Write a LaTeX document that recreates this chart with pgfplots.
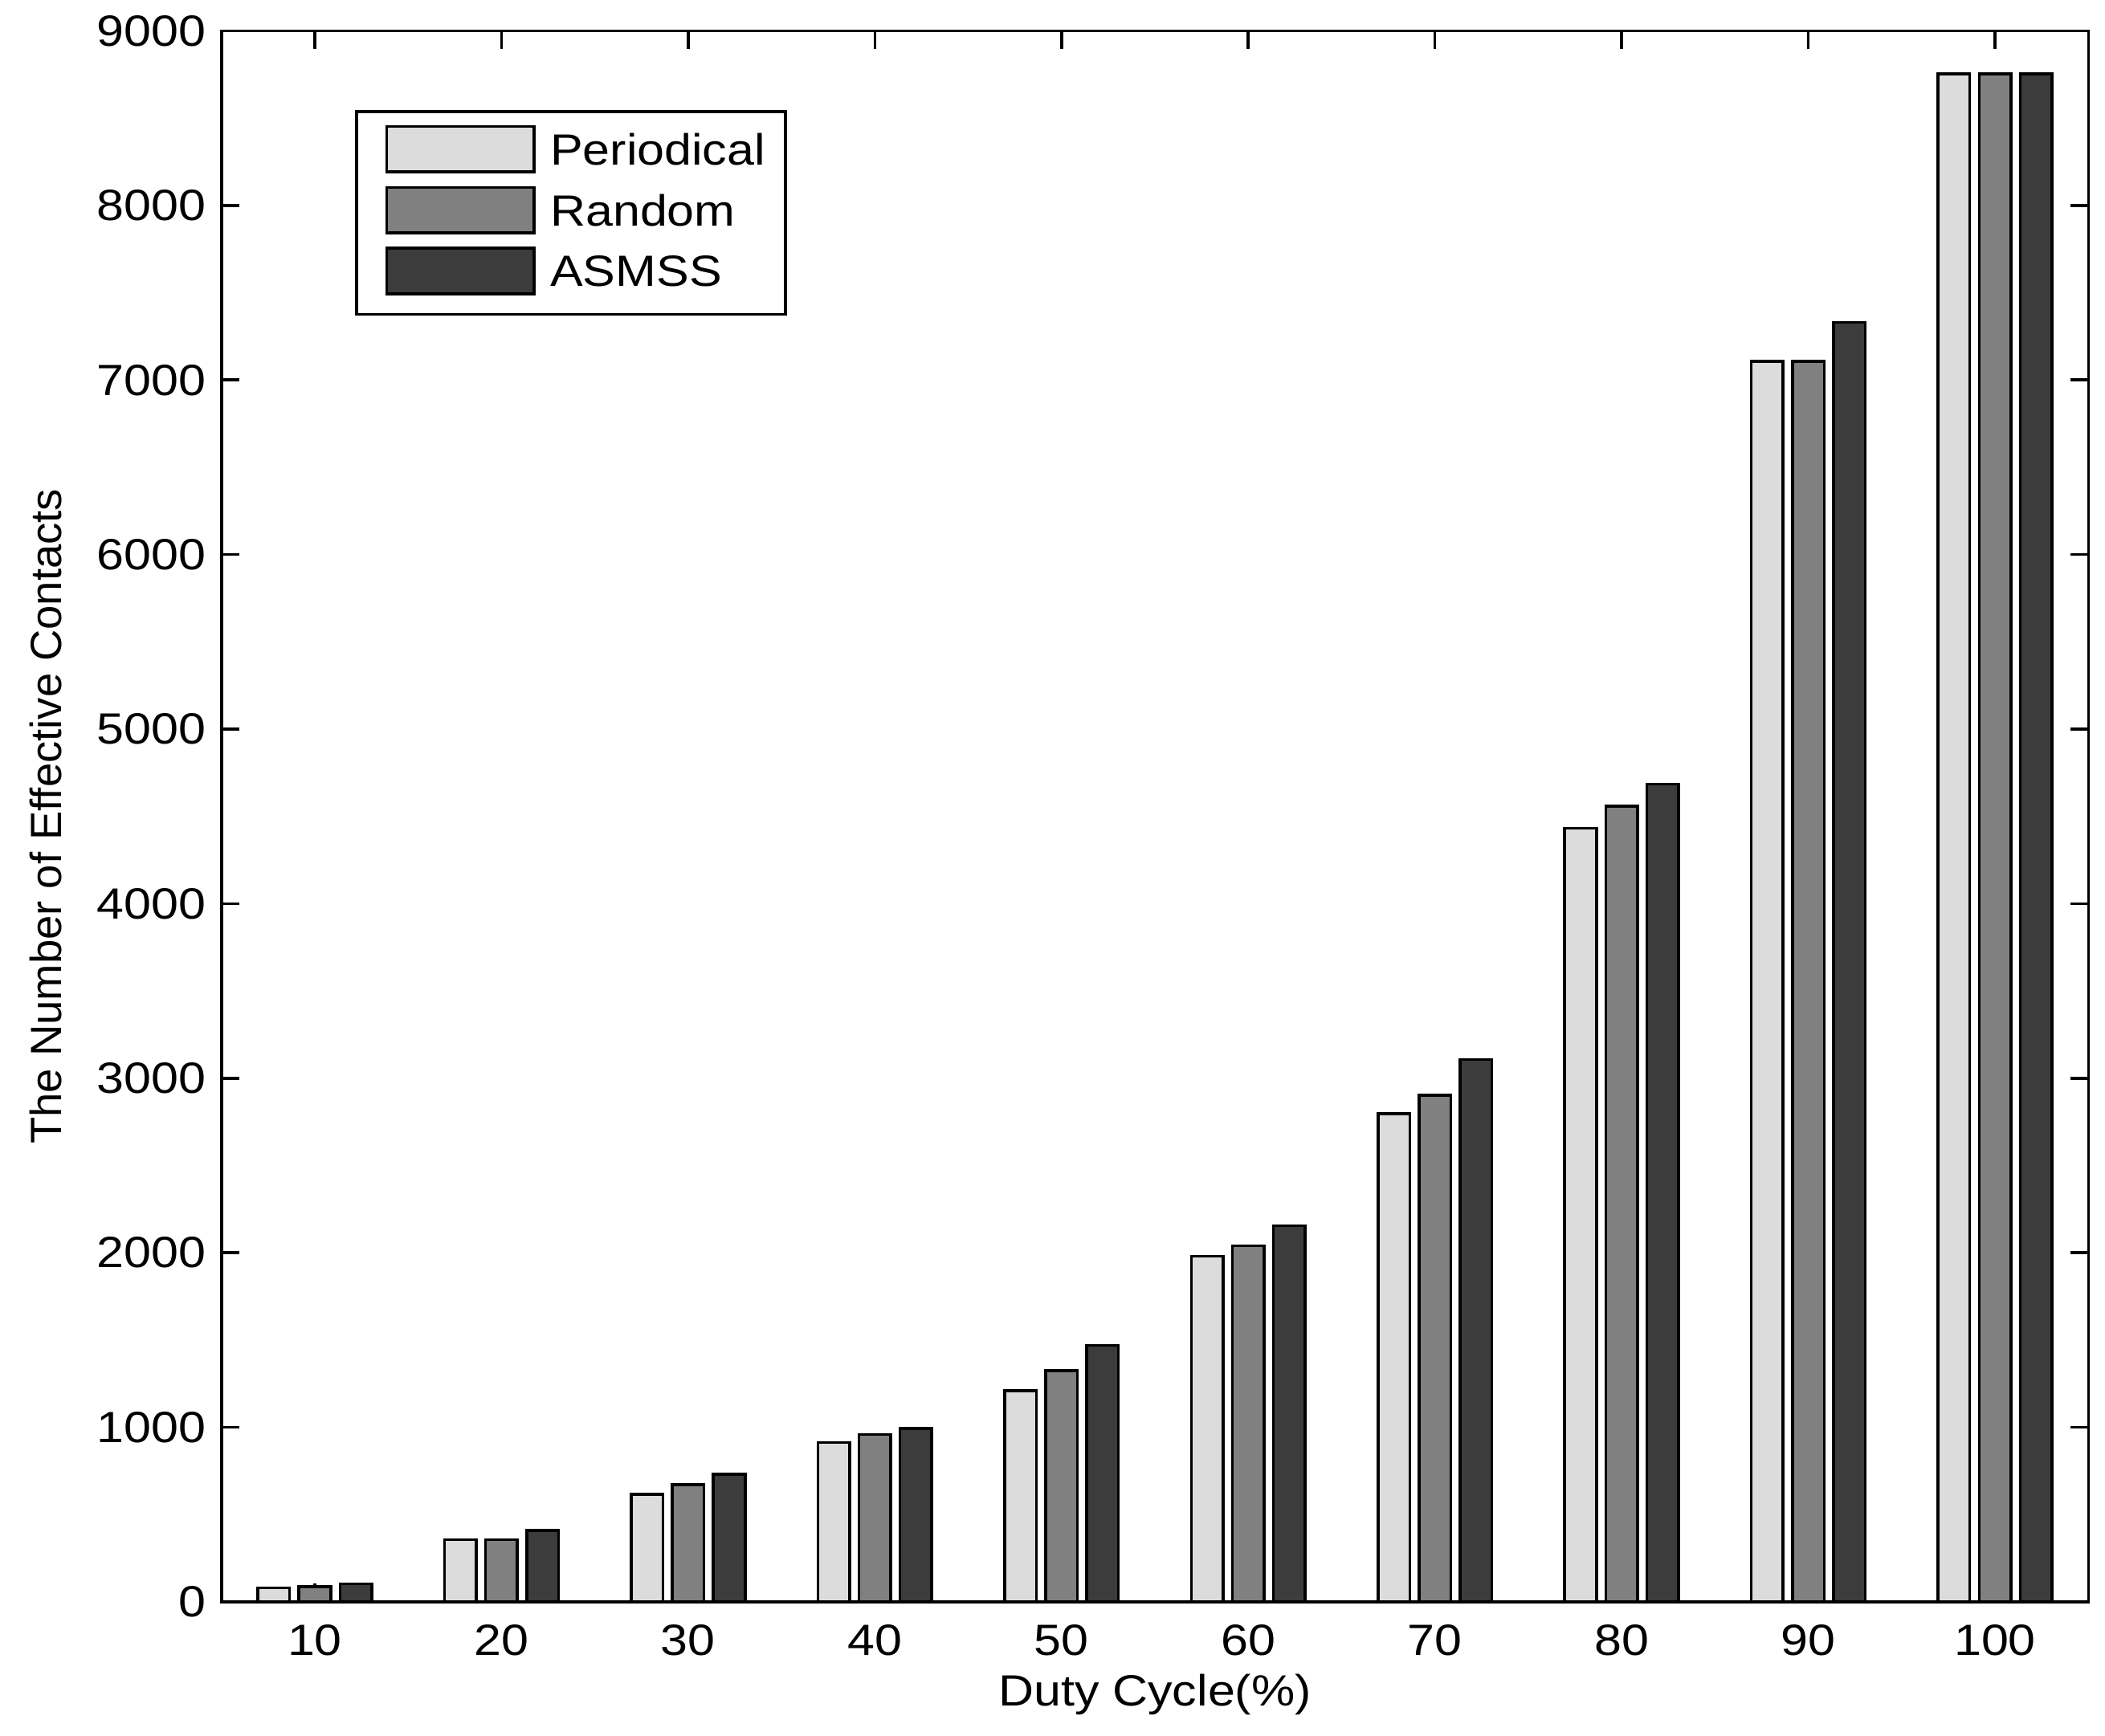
\documentclass[border=0pt]{standalone}
\usepackage{fontspec}
\setmainfont{Liberation Sans}[FakeStretch=1.12]
\newfontfamily\plainfont{Liberation Sans}
\usepackage{pgfplots}
\pgfplotsset{compat=1.18}
\definecolor{cP}{HTML}{DCDCDC}
\definecolor{cR}{HTML}{808080}
\definecolor{cA}{HTML}{3C3C3C}
\begin{document}
\fontsize{9.2pt}{11pt}\selectfont
\begin{tikzpicture}
\begin{axis}[
  at={(0,0)}, anchor=south west,
  scale only axis, width=392.8pt, height=330.6pt,
  xmin=0.5, xmax=10.5, ymin=0, ymax=9000,
  xtick={1,2,3,4,5,6,7,8,9,10},
  xticklabels={10,20,30,40,50,60,70,80,90,100},
  ytick={0,1000,2000,3000,4000,5000,6000,7000,8000,9000},
  scaled y ticks=false,
  /pgf/number format/assume math mode=true,
  yticklabel style={/pgf/number format/.cd, fixed, 1000 sep={}},
  xticklabel style={yshift=-1.5pt},
  tick label style={font=\fontsize{9.2pt}{11pt}\selectfont},
  tick align=inside, major tick length=3.8pt,
  axis line style={line width=0.6pt},
  every tick/.style={black, line width=0.6pt},
  xlabel={Duty Cycle(\%)},
  ylabel={The Number of Effective Contacts},
  x label style={at={(axis description cs:0.5,0)}, anchor=center, yshift=-19.5pt,
    font=\fontsize{9.2pt}{11pt}\selectfont},
  y label style={at={(axis description cs:-0.094,0.5)}, anchor=center,
    font=\plainfont\fontsize{9.2pt}{11pt}\selectfont},
  legend style={at={(axis description cs:0.0715,0.9495)}, anchor=north west,
    draw=black, line width=0.6pt, fill=white,
    inner xsep=2.5pt, inner ysep=2.8pt, row sep=1.3pt,
    nodes={inner sep=1.7pt},
    font=\fontsize{9.2pt}{11pt}\selectfont,
    /tikz/every odd column/.style={column sep=1.4pt}},
  legend cell align=left,
  legend image code/.code={\path (0pt,0pt); \draw[#1, line width=0.6pt] (3.6pt,-4.1pt) rectangle (34.6pt,5.5pt);},
]
\addplot[ybar, bar width=0.17, bar shift=-0.22, fill=cP, draw=black, line width=0.6pt]
  coordinates {(1,80) (2,357) (3,617) (4,912) (5,1210) (6,1980) (7,2797) (8,4432) (9,7108) (10,8754)};
\addplot[ybar, bar width=0.17, bar shift=0, fill=cR, draw=black, line width=0.6pt]
  coordinates {(1,88) (2,357) (3,670) (4,958) (5,1325) (6,2040) (7,2903) (8,4558) (9,7108) (10,8754)};
\addplot[ybar, bar width=0.17, bar shift=0.22, fill=cA, draw=black, line width=0.6pt]
  coordinates {(1,104) (2,408) (3,732) (4,992) (5,1470) (6,2155) (7,3107) (8,4685) (9,7330) (10,8754)};
\legend{Periodical,Random,ASMSS}
\end{axis}
\pgfresetboundingbox
\path (-46.6pt,-28.1pt) rectangle (396.3pt,337.1pt);
\end{tikzpicture}
\end{document}
